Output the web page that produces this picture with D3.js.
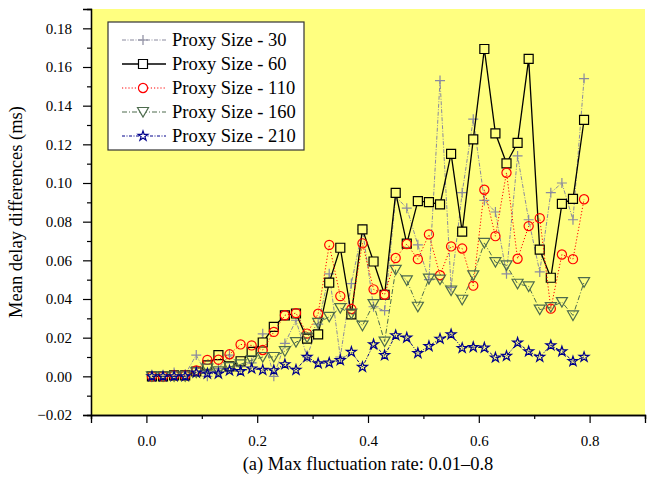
<!DOCTYPE html>
<html>
<head>
<meta charset="utf-8">
<script src="https://cdn.jsdelivr.net/npm/d3@7"></script>
<style>
  body { margin: 0; background: #fff; }
</style>
</head>
<body>
<div id="chart"></div>
<script>
var rates = [0.01, 0.03, 0.05, 0.07, 0.09, 0.11, 0.13, 0.15, 0.17, 0.19,
             0.21, 0.23, 0.25, 0.27, 0.29, 0.31, 0.33, 0.35, 0.37, 0.39,
             0.41, 0.43, 0.45, 0.47, 0.49, 0.51, 0.53, 0.55, 0.57, 0.59,
             0.61, 0.63, 0.65, 0.67, 0.69, 0.71, 0.73, 0.75, 0.77, 0.79];

var proxy30 = [0.000, 0.000, 0.002, 0.001, 0.011, 0.000, 0.004, 0.011, 0.005, 0.007,
               0.022, 0.000, 0.017, 0.029, 0.010, 0.027, 0.053, 0.010, 0.048, 0.076,
               0.036, 0.034, 0.093, 0.087, 0.068, 0.050, 0.153, 0.046, 0.095, 0.133,
               0.091, 0.085, 0.053, 0.114, 0.081, 0.054, 0.095, 0.100, 0.081, 0.154];

var proxy60 = [0.000, 0.000, 0.0005, 0.0005, 0.0025, 0.0057, 0.011, 0.0052, 0.0078, 0.0126,
               0.0175, 0.0256, 0.0315, 0.0325, 0.0195, 0.0217, 0.0485, 0.0665, 0.032, 0.076,
               0.0594, 0.0422, 0.0949, 0.0686, 0.0906, 0.0901, 0.0889, 0.1151, 0.0748, 0.1226,
               0.1693, 0.1257, 0.1102, 0.1208, 0.1642, 0.0655, 0.051, 0.0892, 0.0918, 0.1326];

var proxy110 = [0.000, 0.000, 0.0005, 0.0005, 0.003, 0.0085, 0.0086, 0.0114, 0.0165, 0.016,
                0.0136, 0.023, 0.0316, 0.0327, 0.0221, 0.0324, 0.068, 0.0415, 0.0348, 0.0688,
                0.045, 0.0423, 0.0612, 0.0684, 0.0606, 0.0734, 0.0523, 0.0672, 0.0661, 0.0469,
                0.0965, 0.0725, 0.1053, 0.0608, 0.0777, 0.0818, 0.035, 0.063, 0.0606, 0.0916];

var proxy160 = [0.000, 0.000, 0.000, 0.000, 0.002, 0.004, 0.0026, 0.0048, 0.0062, 0.0083,
                0.010, 0.010, 0.013, 0.0177, 0.020, 0.0276, 0.0308, 0.0353, 0.0324, 0.0262,
                0.0374, 0.018, 0.0551, 0.0496, 0.036, 0.0505, 0.050, 0.0444, 0.0396, 0.0522,
                0.069, 0.0591, 0.0574, 0.0479, 0.0465, 0.0345, 0.0358, 0.0384, 0.0315, 0.0487];

var proxy210 = [0.000, 0.000, 0.000, 0.000, 0.0019, 0.0014, 0.0014, 0.003, 0.0026, 0.004,
                0.0033, 0.0031, 0.0062, 0.0033, 0.010, 0.0067, 0.007, 0.0083, 0.0126, 0.0048,
                0.0165, 0.0109, 0.0212, 0.020, 0.012, 0.0156, 0.0194, 0.0217, 0.0146, 0.0151,
                0.0148, 0.0097, 0.0105, 0.0174, 0.0129, 0.010, 0.016, 0.0129, 0.0078, 0.010];

var seriesNames = ["Proxy Size - 30", "Proxy Size - 60", "Proxy Size - 110",
                   "Proxy Size - 160", "Proxy Size - 210"];

var xTicks = [0.0, 0.2, 0.4, 0.6, 0.8];
var yTicks = [-0.02, 0.00, 0.02, 0.04, 0.06, 0.08, 0.10, 0.12, 0.14, 0.16, 0.18];

var width = 653,
    height = 478;

var serif = "Liberation Serif";

var margin = {left: 91, right: 8, top: 9, bottom: 63};

var svg = d3.select("#chart").append("svg")
    .attr("width", width)
    .attr("height", height)
    .attr("font-family", serif);

var x = d3.scaleLinear()
    .domain([-0.1, 0.9])
    .range([margin.left, width - margin.right]);

var y = d3.scaleLinear()
    .domain([-0.02, 0.19])
    .range([height - margin.bottom, margin.top]);

// plot background
svg.append("rect")
    .attr("x", x(-0.1))
    .attr("y", y(0.19))
    .attr("width", x(0.9) - x(-0.1))
    .attr("height", y(-0.02) - y(0.19))
    .attr("fill", "#ffff80");

// marker shapes
var plusPath = "M-5,0H5M0,-5V5";
var triPath = "M-5.5,-4.5L5.5,-4.5L0,5Z";
var starPath = d3.symbol().type(d3.symbolStar).size(30)();
var squarePath = "M-4.5,-4.5H4.5V4.5H-4.5Z";
var circlePath = d3.symbol().type(d3.symbolCircle).size(66)();

var series = [
  {name: seriesNames[0], values: proxy30, color: "#8a8a9e", dash: "4,1.5,1,1.5", width: 1, marker: plusPath, fill: "none"},
  {name: seriesNames[1], values: proxy60, color: "#000000", dash: null, width: 1.3, marker: squarePath, fill: "#ffff80"},
  {name: seriesNames[2], values: proxy110, color: "#ff0000", dash: "1.2,2", width: 1, marker: circlePath, fill: "none"},
  {name: seriesNames[3], values: proxy160, color: "#4d6b4d", dash: "5,2,1,2", width: 1, marker: triPath, fill: "none"},
  {name: seriesNames[4], values: proxy210, color: "#00008b", dash: "3,1.5,1,1.5", width: 1, marker: starPath, fill: "none"}
];

var line = d3.line()
    .x(function(d) { return x(d[0]); })
    .y(function(d) { return y(d[1]); });

series.forEach(function(s) {
  var pts = rates.map(function(r, i) { return [r, s.values[i]]; });
  var g = svg.append("g");
  g.append("path")
      .datum(pts)
      .attr("d", line)
      .attr("fill", "none")
      .attr("stroke", s.color)
      .attr("stroke-width", s.width)
      .attr("stroke-dasharray", s.dash);
  g.selectAll(".m")
      .data(pts)
    .enter().append("path")
      .attr("transform", function(d) { return "translate(" + x(d[0]) + "," + y(d[1]) + ")"; })
      .attr("d", s.marker)
      .attr("fill", s.fill)
      .attr("stroke", s.color)
      .attr("stroke-width", 1.2);
});

// axes
var xAxis = d3.axisBottom(x)
    .tickValues(xTicks)
    .tickSize(8)
    .tickFormat(d3.format(".1f"));

var xMinor = d3.axisBottom(x)
    .tickValues([-0.1, 0.1, 0.3, 0.5, 0.7, 0.9])
    .tickSize(4)
    .tickFormat("");

var yAxis = d3.axisLeft(y)
    .tickValues(yTicks)
    .tickSize(8)
    .tickFormat(d3.format(".2f"));

var yMinor = d3.axisLeft(y)
    .tickValues([-0.01, 0.01, 0.03, 0.05, 0.07, 0.09, 0.11, 0.13, 0.15, 0.17])
    .tickSize(4)
    .tickFormat("");

function styleAxis(g) {
  g.attr("font-family", serif).attr("font-size", 15);
  g.select(".domain").attr("stroke", "#000").attr("stroke-width", 1.3);
  g.selectAll(".tick line").attr("stroke", "#000").attr("stroke-width", 1.2);
  g.selectAll("text").attr("fill", "#000");
}

svg.append("g")
    .attr("transform", "translate(0," + y(-0.02) + ")")
    .call(xMinor)
    .call(styleAxis);

svg.append("g")
    .attr("transform", "translate(0," + y(-0.02) + ")")
    .call(xAxis)
    .call(styleAxis)
    .selectAll("text").attr("dy", "1.3em");

svg.append("g")
    .attr("transform", "translate(" + x(-0.1) + ",0)")
    .call(yMinor)
    .call(styleAxis);

svg.append("g")
    .attr("transform", "translate(" + x(-0.1) + ",0)")
    .call(yAxis)
    .call(styleAxis)
    .selectAll("text").attr("x", -19);

// axis titles
svg.append("text")
    .attr("x", (x(-0.1) + x(0.9)) / 2)
    .attr("y", 470)
    .attr("text-anchor", "middle")
    .attr("font-size", 18.5)
    .text("(a) Max fluctuation rate: 0.01\u20130.8");

svg.append("text")
    .attr("transform", "translate(22," + (y(-0.02) + y(0.19)) / 2 + ") rotate(-90)")
    .attr("text-anchor", "middle")
    .attr("font-size", 18.5)
    .text("Mean delay differences (ms)");

// legend
var legend = svg.append("g")
    .attr("transform", "translate(108,22)");

legend.append("rect")
    .attr("width", 196)
    .attr("height", 128)
    .attr("fill", "#fff")
    .attr("stroke", "#333")
    .attr("stroke-width", 1.2);

var rows = legend.selectAll(".row")
    .data(series)
  .enter().append("g")
    .attr("transform", function(d, i) { return "translate(0," + (18 + i * 24) + ")"; });

rows.append("line")
    .attr("x1", 14)
    .attr("x2", 58)
    .attr("stroke", function(d) { return d.color; })
    .attr("stroke-width", function(d) { return d.width; })
    .attr("stroke-dasharray", function(d) { return d.dash; });

rows.append("path")
    .attr("transform", "translate(35,0)")
    .attr("d", function(d) { return d.marker; })
    .attr("fill", "#fff")
    .attr("stroke", function(d) { return d.color; })
    .attr("stroke-width", 1.2);

rows.append("text")
    .attr("x", 64)
    .attr("dy", "0.35em")
    .attr("font-size", 18.5)
    .text(function(d) { return d.name; });
</script>
</body>
</html>
